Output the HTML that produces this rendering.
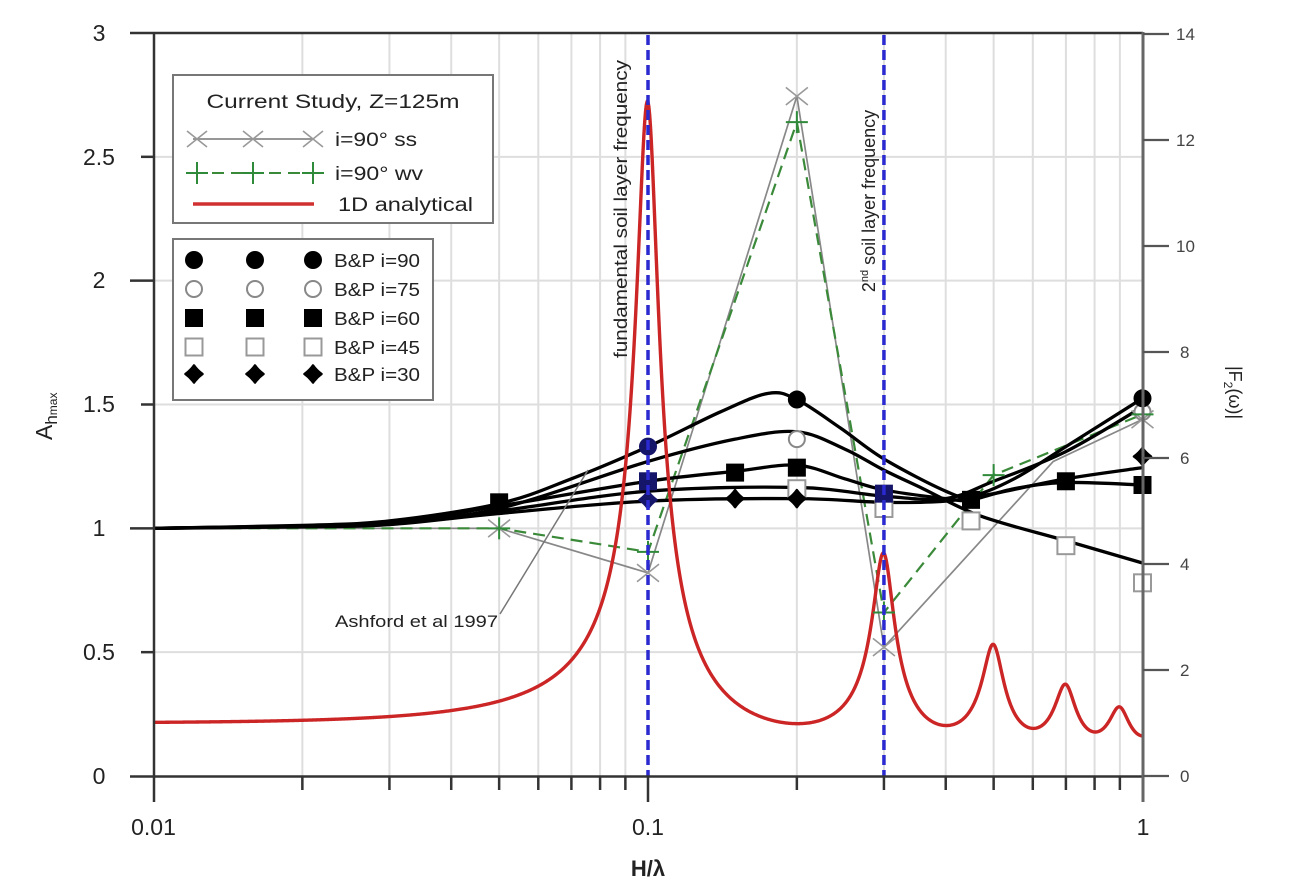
<!DOCTYPE html>
<html><head><meta charset="utf-8">
<style>
html,body{margin:0;padding:0;background:#fff;}
svg{display:block;}
text{font-family:"Liberation Sans",Arial,sans-serif;fill:#222;}
</style></head>
<body>
<svg id="s" width="1302" height="886" viewBox="0 0 1302 886" xmlns="http://www.w3.org/2000/svg">
<rect width="1302" height="886" fill="#fff"/>
<g id="grid" stroke="#dedede" stroke-width="2"></g>

<!-- Legend 1 -->
<rect x="173" y="75" width="320" height="148" fill="#fff" stroke="#777" stroke-width="2"/>
<text x="333" y="108" font-size="19" text-anchor="middle" textLength="253" lengthAdjust="spacingAndGlyphs">Current Study, Z=125m</text>
<line x1="193" y1="139" x2="313" y2="139" stroke="#888" stroke-width="1.8"/>
<g id="lgx" stroke="#999" stroke-width="1.6"></g>
<text x="335" y="146" font-size="19" textLength="82" lengthAdjust="spacingAndGlyphs">i=90° ss</text>
<line x1="193" y1="173" x2="313" y2="173" stroke="#3a8a3a" stroke-width="2" stroke-dasharray="12,7"/>
<g id="lgp" stroke="#2f8a3a" stroke-width="2"></g>
<text x="335" y="180" font-size="19" textLength="88" lengthAdjust="spacingAndGlyphs">i=90° wv</text>
<line x1="193" y1="204" x2="314" y2="204" stroke="#d03030" stroke-width="3.5"/>
<text x="338" y="211" font-size="19" textLength="135" lengthAdjust="spacingAndGlyphs">1D analytical</text>

<!-- Legend 2 -->
<rect x="173" y="239" width="260" height="161" fill="#fff" stroke="#777" stroke-width="2"/>
<g id="lg2"></g>
<text x="334" y="267" font-size="18" textLength="86" lengthAdjust="spacingAndGlyphs">B&amp;P i=90</text>
<text x="334" y="296" font-size="18" textLength="86" lengthAdjust="spacingAndGlyphs">B&amp;P i=75</text>
<text x="334" y="325" font-size="18" textLength="86" lengthAdjust="spacingAndGlyphs">B&amp;P i=60</text>
<text x="334" y="354" font-size="18" textLength="86" lengthAdjust="spacingAndGlyphs">B&amp;P i=45</text>
<text x="334" y="381" font-size="18" textLength="86" lengthAdjust="spacingAndGlyphs">B&amp;P i=30</text>

<g id="data"></g>
<g id="marks"></g>

<!-- annotations -->
<text transform="translate(627,209) rotate(-90)" font-size="18" text-anchor="middle" textLength="298" lengthAdjust="spacingAndGlyphs">fundamental soil layer frequency</text>
<text transform="translate(875,201) rotate(-90)" font-size="18" text-anchor="middle">2<tspan font-size="11" dy="-7">nd</tspan><tspan dy="7"> soil layer frequency</tspan></text>
<line x1="500" y1="614" x2="588" y2="470" stroke="#777" stroke-width="1.5"/>
<text x="335" y="627" font-size="17" textLength="163" lengthAdjust="spacingAndGlyphs">Ashford et al 1997</text>

<g id="blue"></g>
<g id="axes"></g>

<!-- tick labels -->
<g font-size="23" text-anchor="middle">
<text x="99" y="41">3</text>
<text x="99" y="165">2.5</text>
<text x="99" y="288">2</text>
<text x="99" y="412">1.5</text>
<text x="99" y="536">1</text>
<text x="99" y="660">0.5</text>
<text x="99" y="784">0</text>
<text x="153.5" y="835">0.01</text>
<text x="648" y="835">0.1</text>
<text x="1143" y="835">1</text>
</g>
<text x="648" y="876" font-size="22" font-weight="bold" text-anchor="middle">H/λ</text>
<g font-size="17">
<text x="1176" y="40" style="fill:#444">14</text>
<text x="1176" y="146" style="fill:#444">12</text>
<text x="1176" y="252" style="fill:#444">10</text>
<text x="1180" y="358" style="fill:#444">8</text>
<text x="1180" y="464" style="fill:#444">6</text>
<text x="1180" y="570" style="fill:#444">4</text>
<text x="1180" y="676" style="fill:#444">2</text>
<text x="1180" y="782" style="fill:#444">0</text>
</g>
<text transform="translate(52,440) rotate(-90)" font-size="23">A<tspan font-size="17" dy="5">h</tspan><tspan font-size="12" dy="0">max</tspan></text>
<text transform="translate(1229,366) rotate(90)" font-size="18">|F<tspan font-size="12" dy="5">2</tspan><tspan dy="-5">(ω)|</tspan></text>
</svg>
<script>
(function(){
const NS="http://www.w3.org/2000/svg";
function g(id){return document.getElementById(id);}
function X(v){return 153.5+494.5*Math.log10(v/0.01);}
function YL(a){return 776-247.67*a;}
function YR(f){return 776-53*f;}
function el(tag,attrs,parent){const e=document.createElementNS(NS,tag);for(const k in attrs)e.setAttribute(k,attrs[k]);parent.appendChild(e);return e;}

// grid
const grid=g('grid');
const minors=[];
[0.01,0.1].forEach(function(d){for(let k=2;k<=9;k++)minors.push(d*k);});
minors.forEach(function(v){const x=X(v);el('line',{x1:x,y1:33,x2:x,y2:776},grid);});
[0.5,1,1.5,2,2.5].forEach(function(a){const y=YL(a);el('line',{x1:154,y1:y,x2:1143,y2:y},grid);});

// markers
function cross(x,y,p,s){el('line',{x1:x-s,y1:y-s*0.8,x2:x+s,y2:y+s*0.8},p);el('line',{x1:x-s,y1:y+s*0.8,x2:x+s,y2:y-s*0.8},p);}
function plus(x,y,p,s){el('line',{x1:x-s,y1:y,x2:x+s,y2:y},p);el('line',{x1:x,y1:y-s,x2:x,y2:y+s},p);}
function fcirc(x,y,p,c){el('circle',{cx:x,cy:y,r:9,fill:c||'#000'},p);}
function ocirc(x,y,p){el('circle',{cx:x,cy:y,r:8,fill:'#fff',stroke:'#888','stroke-width':2},p);}
function fsq(x,y,p,c){el('rect',{x:x-9,y:y-9,width:18,height:18,fill:c||'#000'},p);}
function osq(x,y,p){el('rect',{x:x-8.5,y:y-8.5,width:17,height:17,fill:'#fff',stroke:'#999','stroke-width':2},p);}
function dia(x,y,p,c){
  const r=8.5,q=3.5;
  el('path',{d:'M'+x+','+(y-r)+' Q'+(x+q)+','+(y-q)+' '+(x+r)+','+y+' Q'+(x+q)+','+(y+q)+' '+x+','+(y+r)+' Q'+(x-q)+','+(y+q)+' '+(x-r)+','+y+' Q'+(x-q)+','+(y-q)+' '+x+','+(y-r)+'Z',fill:c||'#000',stroke:c||'#000','stroke-width':2.5,'stroke-linejoin':'round'},p);
  el('circle',{cx:x,cy:y,r:5,fill:c||'#000'},p);
}

[197,253,313].forEach(function(x){cross(x,139,g('lgx'),10);plus(x,173,g('lgp'),11);});
const l2=g('lg2');
[194,255,313].forEach(function(x){fcirc(x,260,l2);ocirc(x,289,l2);fsq(x,318,l2);osq(x,347,l2);dia(x,374,l2);});

// data
const data=g('data');
function spline(pts){
  let d='M'+pts[0][0].toFixed(2)+','+pts[0][1].toFixed(2);
  for(let i=0;i<pts.length-1;i++){
    const p0=pts[i-1]||pts[i],p1=pts[i],p2=pts[i+1],p3=pts[i+2]||p2,t=1/6;
    const c1=[p1[0]+(p2[0]-p0[0])*t,p1[1]+(p2[1]-p0[1])*t];
    const c2=[p2[0]-(p3[0]-p1[0])*t,p2[1]-(p3[1]-p1[1])*t];
    d+=' C'+c1[0].toFixed(2)+','+c1[1].toFixed(2)+' '+c2[0].toFixed(2)+','+c2[1].toFixed(2)+' '+p2[0].toFixed(2)+','+p2[1].toFixed(2);
  }
  return d;
}
function px(arr){return arr.map(function(p){return [X(p[0]),YL(p[1])];});}
function poly(arr){return 'M'+px(arr).map(function(p){return p[0].toFixed(2)+','+p[1].toFixed(2);}).join(' L');}

// red 1D analytical
let rd='';
for(let i=0;i<=1200;i++){
  const lv=-2+2*i/1200, f=Math.pow(10,lv), th=5*Math.PI*f, xi=0.05;
  const sh=Math.sinh(xi*th);
  const F=1/Math.sqrt(Math.cos(th)*Math.cos(th)+sh*sh);
  rd+=(i?' L':'M')+X(f).toFixed(2)+','+YR(F).toFixed(2);
}

const curves=[
 [[0.01,1.0],[0.02,1.012],[0.03,1.03],[0.05,1.10],[0.07,1.2],[0.1,1.33],[0.14,1.47],[0.175,1.545],[0.2,1.52],[0.245,1.405],[0.3,1.28],[0.4,1.15],[0.45,1.13],[0.55,1.2],[0.7,1.33],[1,1.525]],
 [[0.01,1.0],[0.02,1.01],[0.03,1.025],[0.05,1.08],[0.1,1.27],[0.15,1.36],[0.2,1.39],[0.25,1.32],[0.3,1.235],[0.36,1.16],[0.47,1.05],[0.7,0.95],[1,0.86]],
 [[0.01,1.0],[0.02,1.01],[0.03,1.02],[0.05,1.09],[0.1,1.19],[0.15,1.23],[0.2,1.255],[0.25,1.2],[0.3,1.155],[0.4,1.12],[0.45,1.115],[0.55,1.16],[0.7,1.185],[1,1.175]],
 [[0.01,1.0],[0.02,1.008],[0.03,1.018],[0.05,1.07],[0.1,1.15],[0.2,1.165],[0.3,1.13],[0.4,1.12],[0.5,1.19],[0.7,1.31],[1,1.49]],
 [[0.01,1.0],[0.02,1.006],[0.03,1.015],[0.05,1.06],[0.1,1.11],[0.2,1.12],[0.3,1.105],[0.4,1.11],[0.5,1.14],[0.7,1.2],[1,1.245]]
];

const ss=[[0.01,1.0],[0.05,1.0],[0.1,0.82],[0.2,2.745],[0.3,0.52],[0.66,1.27],[1,1.44]];
const wv=[[0.01,1.0],[0.05,1.0],[0.1,0.905],[0.2,2.64],[0.3,0.66],[0.5,1.215],[1,1.46]];

el('path',{d:poly(ss),fill:'none',stroke:'#888','stroke-width':1.7},data);
el('path',{d:poly(wv),fill:'none',stroke:'#3a8a3a','stroke-width':2.2,'stroke-dasharray':'12,7'},data);
curves.forEach(function(c){el('path',{d:spline(px(c)),fill:'none',stroke:'#000','stroke-width':3.3,'stroke-linejoin':'round'},data);});
el('path',{d:rd,fill:'none',stroke:'#cc2525','stroke-width':3.4,'stroke-linejoin':'round'},data);

// markers on plot
const mk=g('marks');
const navy='#15156a';
function M(v){return X(v);}
[[0.2,1.16],[0.3,1.08],[0.45,1.03],[0.7,0.93],[1,0.78]].forEach(function(p){osq(M(p[0]),YL(p[1]),mk);});
[[0.2,1.36],[1,1.47]].forEach(function(p){ocirc(M(p[0]),YL(p[1]),mk);});
[[0.05,1.105],[0.1,1.19],[0.15,1.225],[0.2,1.245],[0.3,1.14],[0.45,1.115],[0.7,1.19],[1,1.175]].forEach(function(p){fsq(M(p[0]),YL(p[1]),mk,(p[0]===0.1||p[0]===0.3)?navy:'#000');});
[[0.1,1.115],[0.15,1.12],[0.2,1.12],[1,1.29]].forEach(function(p){dia(M(p[0]),YL(p[1]),mk,p[0]===0.1?navy:'#000');});
[[0.1,1.33],[0.2,1.52],[1,1.525]].forEach(function(p){fcirc(M(p[0]),YL(p[1]),mk,p[0]===0.1?navy:'#000');});
const xg=el('g',{stroke:'#999','stroke-width':1.6},mk);
[[0.05,1.0],[0.1,0.82],[0.2,2.745],[0.3,0.52],[1,1.44]].forEach(function(p){cross(M(p[0]),YL(p[1]),xg,11);});
const pg=el('g',{stroke:'#2f8a3a','stroke-width':2},mk);
[[0.05,1.0],[0.1,0.905],[0.2,2.64],[0.3,0.66],[0.5,1.215],[1,1.46]].forEach(function(p){plus(M(p[0]),YL(p[1]),pg,11);});

// blue dashed lines
const bl=g('blue');
[0.1,0.3].forEach(function(v){const x=X(v);el('line',{x1:x,y1:35,x2:x,y2:776,stroke:'#2a2ad0','stroke-width':3.5,'stroke-dasharray':'10,5'},bl);});

// axes
const ax=g('axes');
el('line',{x1:130,y1:33,x2:1143,y2:33,stroke:'#333','stroke-width':2.5},ax);
el('line',{x1:154,y1:32,x2:154,y2:802,stroke:'#333','stroke-width':2.5},ax);
el('line',{x1:130,y1:776.5,x2:1143,y2:776.5,stroke:'#333','stroke-width':2.5},ax);
[0.5,1.5,2.5].forEach(function(a){const y=YL(a);el('line',{x1:141,y1:y,x2:154,y2:y,stroke:'#333','stroke-width':2.5},ax);});
[1,2].forEach(function(a){const y=YL(a);el('line',{x1:130,y1:y,x2:154,y2:y,stroke:'#333','stroke-width':2.5},ax);});
minors.forEach(function(v){const x=X(v);el('line',{x1:x,y1:776,x2:x,y2:790,stroke:'#333','stroke-width':2.5},ax);});
[0.1].forEach(function(v){const x=X(v);el('line',{x1:x,y1:776,x2:x,y2:802,stroke:'#333','stroke-width':2.5},ax);});
el('line',{x1:1143,y1:32,x2:1143,y2:802,stroke:'#666','stroke-width':3},ax);
for(let f=0;f<=14;f+=2){const y=YR(f);el('line',{x1:1143,y1:y,x2:1169,y2:y,stroke:'#555','stroke-width':2.2},ax);}
})();
</script>
</body></html>
